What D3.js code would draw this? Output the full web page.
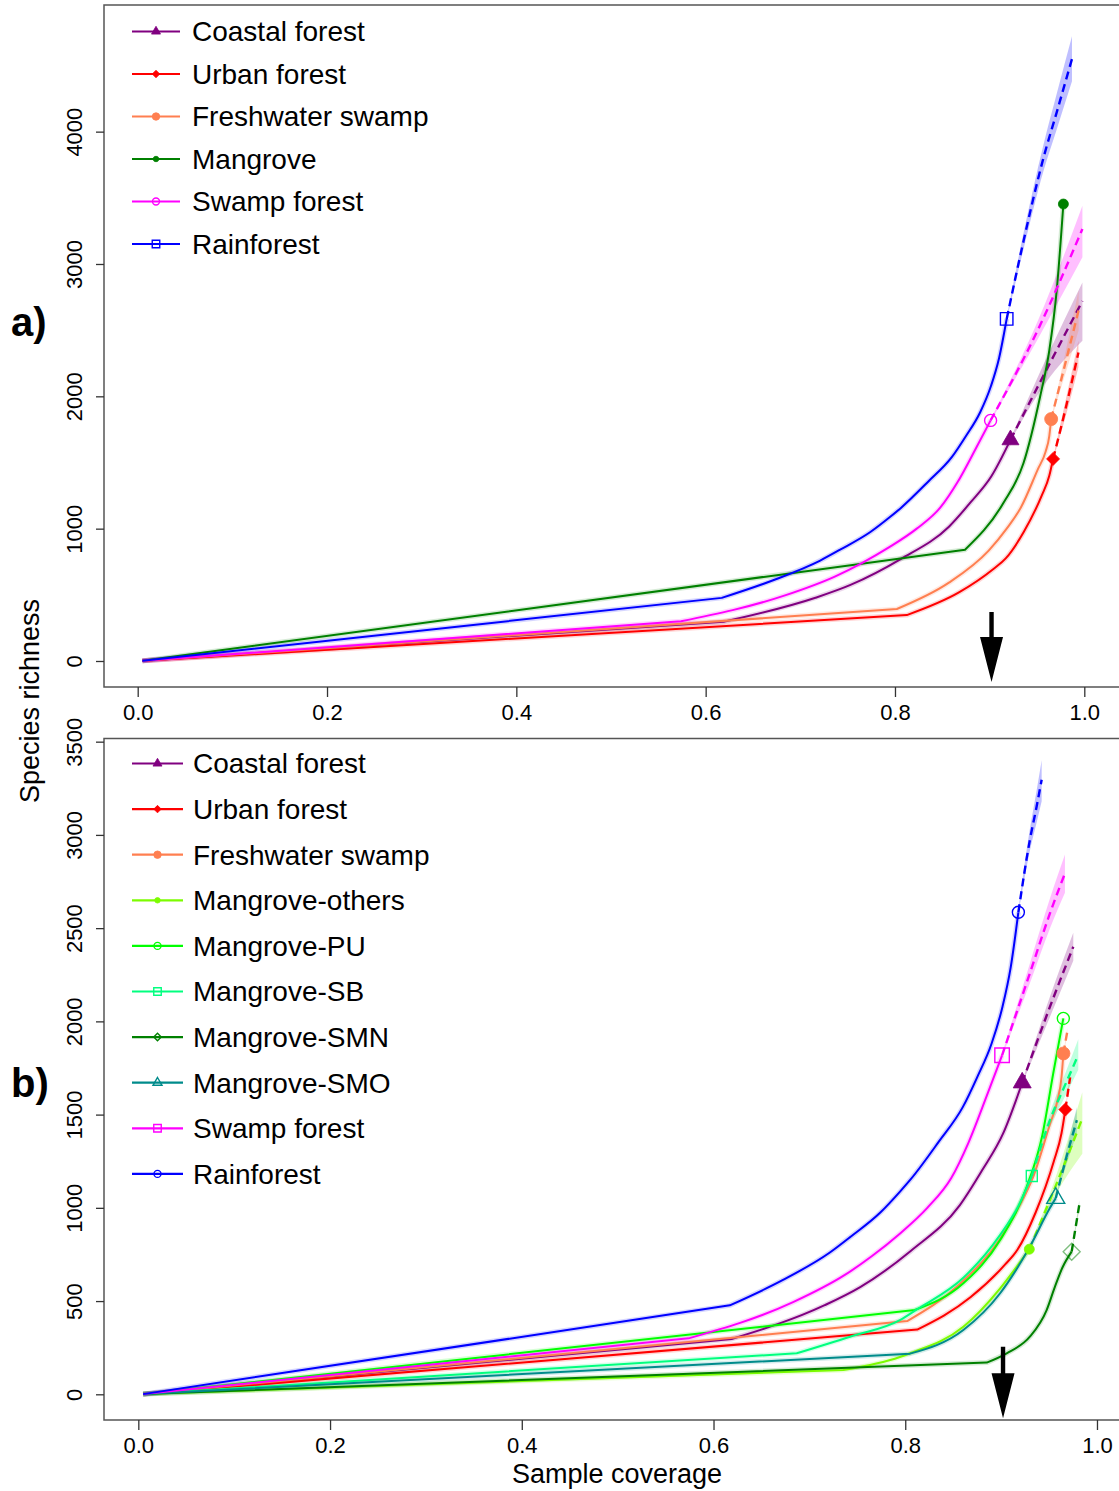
<!DOCTYPE html>
<html>
<head>
<meta charset="utf-8">
<script src="https://cdn.jsdelivr.net/npm/d3@7"></script>
<style>
  body { margin: 0; background: #fff; }
  svg { display: block; font-family: "Liberation Sans", Arial, sans-serif; }
</style>
</head>
<body>
<svg id="chart" width="1119" height="1491"></svg>
<script>
// ---------- tick labels ----------
const xTicks = [0, 0.2, 0.4, 0.6, 0.8, 1.0];
const yTicksA = [0, 1000, 2000, 3000, 4000];
const yTicksB = [0, 500, 1000, 1500, 2000, 2500, 3000, 3500];

// ---------- rarefied (observed) curves: [sample coverage, species richness] ----------
const coastalObs    = [[0.005,1],[0.619,297],[0.716,478],[0.753,575],[0.806,770],[0.857,1015],[0.88,1200],[0.902,1398],[0.922,1671]];
const urbanObs      = [[0.005,1],[0.8125,347],[0.868,520],[0.904,695],[0.917,775],[0.936,975],[0.955,1250],[0.963,1400],[0.967,1527]];
const freshwaterObs = [[0.005,1],[0.802,393],[0.857,592],[0.899,834],[0.918,1000],[0.933,1160],[0.951,1450],[0.959,1580],[0.963,1700],[0.965,1828]];
const swampObs      = [[0.005,1],[0.574,300],[0.683,494],[0.737,640],[0.765,740],[0.794,860],[0.823,1000],[0.848,1160],[0.866,1350],[0.885,1600],[0.901,1818]];
const rainforestObs = [[0.005,1],[0.617,477],[0.672,612],[0.721,759],[0.743,845],[0.774,975],[0.795,1090],[0.806,1155],[0.835,1355],[0.86,1540],[0.875,1700],[0.89,1880],[0.9015,2080],[0.91,2290],[0.918,2585]];
const mangroveObs   = [[0.005,1],[0.874,841],[0.9145,1194],[0.9357,1494],[0.9533,1997],[0.9631,2350],[0.9709,2804],[0.9779,3453]];

const mangroveOthersObs = [[0.005,1],[0.7354,130],[0.7944,200],[0.805,220],[0.8606,362],[0.899,568],[0.9162,684],[0.9294,778]];
const mangrovePUObs     = [[0.005,1],[0.81,452],[0.8606,595],[0.899,827],[0.9267,1113],[0.943,1390],[0.9544,1722],[0.9649,2016]];
const mangroveSBObs     = [[0.005,1],[0.6868,220],[0.7424,309],[0.7944,398],[0.812,455],[0.8606,625],[0.899,855],[0.918,1010],[0.932,1171]];
const mangroveSMNObs    = [[0.005,1],[0.885,170],[0.9058,220],[0.930,309],[0.9475,452],[0.956,575],[0.964,680],[0.9736,765]];
const mangroveSMOObs    = [[0.005,1],[0.805,218],[0.8606,345],[0.899,542],[0.930,792],[0.951,1000],[0.957,1052]];

// ---------- extrapolated curves: [coverage, richness, lower CI, upper CI] ----------
const coastalExtA    = [[0.922,1671,1662,1680],[0.96,2200,2110,2290],[0.998,2720,2420,2860]];
const urbanExtA      = [[0.967,1527,1521,1533],[0.98,1900,1840,1960],[0.9938,2331,2220,2420]];
const freshwaterExtA = [[0.965,1828,1822,1834],[0.98,2250,2170,2330],[0.994,2650,2500,2800]];
const swampExtA      = [[0.901,1818,1810,1826],[0.9515,2510,2440,2580],[0.998,3265,3050,3440]];
const rainforestExtA = [[0.918,2585,2575,2595],[0.9357,3170,3110,3230],[0.9568,3800,3700,3900],[0.971,4150,4020,4290],[0.987,4550,4380,4720]];

const coastalExtB    = [[0.922,1671,1664,1678],[0.951,2079,2025,2133],[0.9753,2400,2325,2475]];
const urbanExtB      = [[0.967,1527,1523,1531],[0.972,1700,1675,1725]];
const freshwaterExtB = [[0.965,1828,1824,1832],[0.969,1945,1925,1965]];
const othersExtB     = [[0.9294,778,773,783],[0.958,1131,1080,1182],[0.9847,1480,1290,1620]];
const sbExtB         = [[0.932,1171,1165,1177],[0.951,1471,1430,1512],[0.966,1650,1590,1710],[0.9805,1820,1740,1904]];
const smnExtB        = [[0.9736,765,760,770],[0.9815,1015,990,1040]];
const smoExtB        = [[0.957,1052,1048,1056],[0.968,1270,1230,1310],[0.979,1470,1400,1540]];
const swampExtB      = [[0.901,1818,1810,1826],[0.930,2258,2205,2311],[0.951,2580,2500,2660],[0.9666,2794,2690,2895]];
const rainforestExtB = [[0.918,2585,2575,2595],[0.930,2973,2915,3031],[0.937,3151,3065,3237],[0.9423,3296,3180,3400]];

// coverage threshold marked by the arrow, and its vertical extent in richness units
const arrowCoverage = 0.902;
const arrowA = { from: 370, to: -159 };
const arrowB = { from: 255, to: -129 };

// ---------- series styling ----------
const seriesA = [
  { name: "Coastal forest",   color: "#800080", obs: coastalObs,    ext: coastalExtA,    mk: { shape: "triangle", fill: true,  size: 17 } },
  { name: "Urban forest",     color: "#FF0000", obs: urbanObs,      ext: urbanExtA,      mk: { shape: "diamond",  fill: true,  size: 13 } },
  { name: "Freshwater swamp", color: "#FF7F50", obs: freshwaterObs, ext: freshwaterExtA, mk: { shape: "circle",   fill: true,  size: 13 } },
  { name: "Mangrove",         color: "#008000", obs: mangroveObs,   ext: null,           mk: { shape: "circle",   fill: true,  size: 10 } },
  { name: "Swamp forest",     color: "#FF00FF", obs: swampObs,      ext: swampExtA,      mk: { shape: "circle",   fill: false, size: 12 } },
  { name: "Rainforest",       color: "#0000FF", obs: rainforestObs, ext: rainforestExtA, mk: { shape: "square",   fill: false, size: 12.5 } }
];

const seriesB = [
  { name: "Coastal forest",   color: "#800080", obs: coastalObs,        ext: coastalExtB,    mk: { shape: "triangle", fill: true,  size: 18 } },
  { name: "Urban forest",     color: "#FF0000", obs: urbanObs,          ext: urbanExtB,      mk: { shape: "diamond",  fill: true,  size: 13 } },
  { name: "Freshwater swamp", color: "#FF7F50", obs: freshwaterObs,     ext: freshwaterExtB, mk: { shape: "circle",   fill: true,  size: 13 } },
  { name: "Mangrove-others",  color: "#7CFC00", obs: mangroveOthersObs, ext: othersExtB,     mk: { shape: "circle",   fill: true,  size: 10 } },
  { name: "Mangrove-PU",      color: "#00FF00", obs: mangrovePUObs,     ext: null,           mk: { shape: "circle",   fill: false, size: 12 } },
  { name: "Mangrove-SB",      color: "#00FF7F", obs: mangroveSBObs,     ext: sbExtB,         mk: { shape: "square",   fill: false, size: 11 } },
  { name: "Mangrove-SMN",     color: "#008000", obs: mangroveSMNObs,    ext: smnExtB,        mk: { shape: "diamond",  fill: false, size: 17, opacity: 0.5 } },
  { name: "Mangrove-SMO",     color: "#008B8B", obs: mangroveSMOObs,    ext: smoExtB,        mk: { shape: "triangle", fill: false, size: 18 } },
  { name: "Swamp forest",     color: "#FF00FF", obs: swampObs,          ext: swampExtB,      mk: { shape: "square",   fill: false, size: 14.5 } },
  { name: "Rainforest",       color: "#0000FF", obs: rainforestObs,     ext: rainforestExtB, mk: { shape: "circle",   fill: false, size: 12 } }
];

// ---------- panel frames ----------
const panelA = {
  id: "a", label: "a)", series: seriesA, yTicks: yTicksA, arrow: arrowA,
  xDomain: [-0.0356, 1.0356], xRange: [104, 1118],
  yDomain: [-196.5, 4957], yRange: [687, 5],
  labelY: 336, legendTop: 31.5, legendStep: 42.5, legendLine: [132, 180], legendText: 192
};
const panelB = {
  id: "b", label: "b)", series: seriesB, yTicks: yTicksB, arrow: arrowB,
  xDomain: [-0.0358, 1.0358], xRange: [104, 1131.3],
  yDomain: [-137.8, 3517], yRange: [1420, 738.5],
  labelY: 1097, legendTop: 763.5, legendStep: 45.6, legendLine: [132, 183], legendText: 193
};

const svg = d3.select("#chart");
svg.append("rect").attr("width", 1119).attr("height", 1491).attr("fill", "#fff");
const defs = svg.append("defs");

function shapePath(type, s) {
  const r = s / 2;
  switch (type) {
    case "triangle": {
      const h = s * Math.sqrt(3) / 2;
      return `M0,${-2 * h / 3}L${r},${h / 3}L${-r},${h / 3}Z`;
    }
    case "diamond": return `M0,${-r}L${r},0L0,${r}L${-r},0Z`;
    case "square":  return `M${-r},${-r}H${r}V${r}H${-r}Z`;
    default:        return `M${r},0A${r},${r} 0 1,1 ${-r},0A${r},${r} 0 1,1 ${r},0Z`;
  }
}

function drawMarker(g, mk, color, cx, cy, size) {
  g.append("path")
    .attr("transform", `translate(${cx},${cy})`)
    .attr("d", shapePath(mk.shape, size))
    .attr("fill", mk.fill ? color : "none")
    .attr("stroke", color)
    .attr("stroke-width", mk.fill ? 0.8 : 1.4)
    .attr("stroke-opacity", mk.opacity || 1);
}

function drawPanel(p) {
  const x = d3.scaleLinear().domain(p.xDomain).range(p.xRange);
  const y = d3.scaleLinear().domain(p.yDomain).range(p.yRange);
  const left = p.xRange[0], right = 1119, top = p.yRange[1], bottom = p.yRange[0];

  defs.append("clipPath").attr("id", "clip-" + p.id)
    .append("rect").attr("x", left).attr("y", top).attr("width", right - left).attr("height", bottom - top);

  const plot = svg.append("g").attr("clip-path", `url(#clip-${p.id})`);

  const band = d3.area().x(d => x(d[0])).y0(d => y(d[2])).y1(d => y(d[3])).curve(d3.curveMonotoneX);
  const smooth = d3.line().x(d => x(d[0])).y(d => y(d[1])).curve(d3.curveMonotoneX);
  // rarefied curve: straight first segment up to the first knot, smooth afterwards
  const obsPath = pts => `M${x(pts[0][0])},${y(pts[0][1])}L` + smooth(pts.slice(1)).slice(1);

  // confidence bands of the extrapolated parts
  p.series.forEach(s => {
    if (s.ext) plot.append("path").attr("d", band(s.ext)).attr("fill", s.color).attr("fill-opacity", 0.25);
  });
  // faint halo around the rarefied parts
  p.series.forEach(s => {
    plot.append("path").attr("d", obsPath(s.obs)).attr("fill", "none")
      .attr("stroke", s.color).attr("stroke-opacity", 0.16).attr("stroke-width", 5)
      .attr("stroke-linejoin", "round");
  });
  // rarefied (solid) and extrapolated (dashed) curves
  p.series.forEach(s => {
    plot.append("path").attr("d", obsPath(s.obs)).attr("fill", "none")
      .attr("stroke", s.color).attr("stroke-width", 2).attr("stroke-linejoin", "round");
    if (s.ext) {
      plot.append("path").attr("d", smooth(s.ext)).attr("fill", "none")
        .attr("stroke", s.color).attr("stroke-width", 2.4).attr("stroke-dasharray", "8,5");
    }
  });
  // observed-sample markers
  p.series.forEach(s => {
    const last = s.obs[s.obs.length - 1];
    drawMarker(plot, s.mk, s.color, x(last[0]), y(last[1]), s.mk.size);
  });

  // arrow at the coverage threshold
  const ax = x(arrowCoverage), ay0 = y(p.arrow.from), ay1 = y(p.arrow.to);
  const headLen = 45, headHalf = 11.5, shaftHalf = 2.2;
  svg.append("path")
    .attr("d", `M${ax - shaftHalf},${ay0}H${ax + shaftHalf}V${ay1 - headLen}H${ax + headHalf}L${ax},${ay1}L${ax - headHalf},${ay1 - headLen}H${ax - shaftHalf}Z`)
    .attr("fill", "#000");

  // frame (open on the right)
  svg.append("path")
    .attr("d", `M${right},${top}H${left}V${bottom}H${right}`)
    .attr("fill", "none").attr("stroke", "#555").attr("stroke-width", 1.5);

  // x axis
  const xAxis = svg.append("g").attr("transform", `translate(0,${bottom})`)
    .call(d3.axisBottom(x).tickValues(xTicks).tickSize(10).tickPadding(7).tickFormat(d3.format(".1f")));
  xAxis.select(".domain").remove();
  xAxis.selectAll("line").attr("stroke", "#333").attr("stroke-width", 1.3);
  xAxis.selectAll("text").attr("font-size", 22).attr("fill", "#000")
    .attr("font-family", '"Liberation Sans", Arial, sans-serif');

  // y axis with rotated labels
  const yAxis = svg.append("g").attr("transform", `translate(${left},0)`)
    .call(d3.axisLeft(y).tickValues(p.yTicks).tickSize(8).tickFormat(d3.format("d")));
  yAxis.select(".domain").remove();
  yAxis.selectAll("line").attr("stroke", "#333").attr("stroke-width", 1.3);
  yAxis.selectAll("text")
    .attr("x", 0).attr("y", -22).attr("dy", 0)
    .attr("transform", "rotate(-90)")
    .attr("text-anchor", "middle")
    .attr("font-size", 22).attr("fill", "#000")
    .attr("font-family", '"Liberation Sans", Arial, sans-serif');

  // legend
  const lg = svg.append("g");
  p.series.forEach((s, i) => {
    const ly = p.legendTop + i * p.legendStep;
    const [lx0, lx1] = p.legendLine;
    lg.append("line").attr("x1", lx0).attr("x2", lx1).attr("y1", ly).attr("y2", ly)
      .attr("stroke", s.color).attr("stroke-width", 2.2);
    const small = { triangle: 9, diamond: 7.5, square: 7.5, circle: s.mk.fill ? (s.mk.size <= 10 ? 5.5 : 7.5) : 7 }[s.mk.shape];
    drawMarker(lg, Object.assign({}, s.mk, { opacity: 1 }), s.color, (lx0 + lx1) / 2, ly, small);
    lg.append("text").attr("x", p.legendText).attr("y", ly).attr("dy", "0.35em")
      .attr("font-size", 28).attr("fill", "#000").text(s.name);
  });

  // panel tag
  svg.append("text").attr("x", 11).attr("y", p.labelY)
    .attr("font-size", 40).attr("font-weight", "bold").attr("fill", "#000").text(p.label);
}

drawPanel(panelA);
drawPanel(panelB);

// shared axis titles
svg.append("text").attr("transform", "translate(39,701) rotate(-90)")
  .attr("text-anchor", "middle").attr("font-size", 27).attr("fill", "#000").text("Species richness");
svg.append("text").attr("x", 617).attr("y", 1483)
  .attr("text-anchor", "middle").attr("font-size", 27).attr("fill", "#000").text("Sample coverage");
</script>
</body>
</html>
